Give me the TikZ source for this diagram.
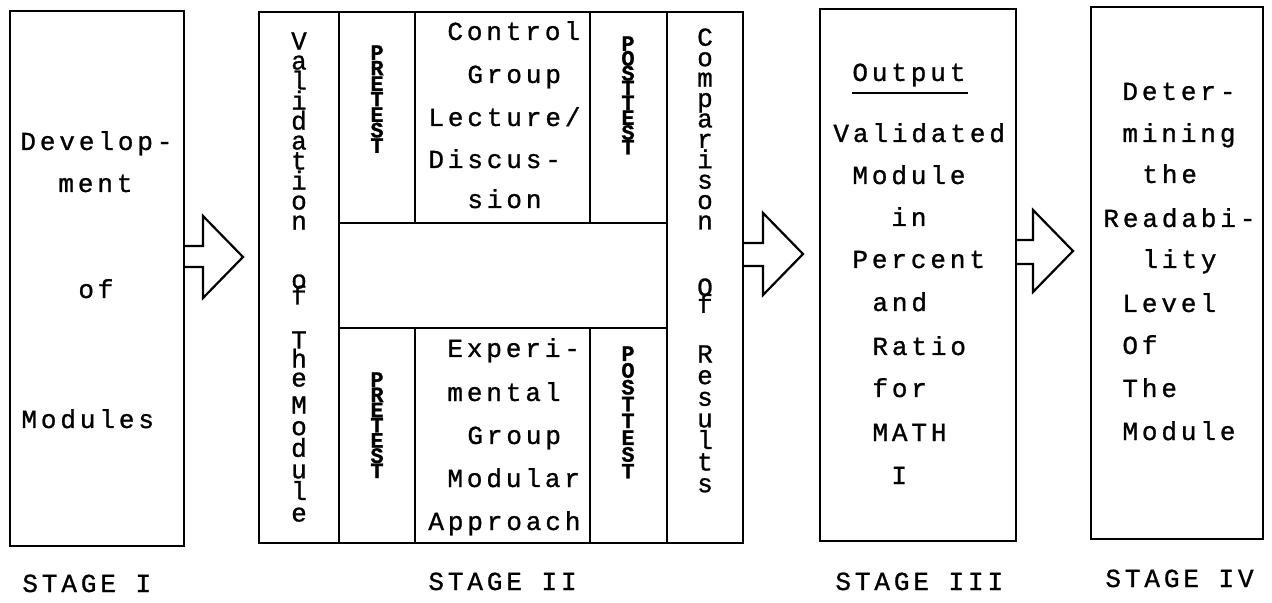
\documentclass[tikz,border=0pt]{standalone}
\usepackage{fontspec}
\newfontfamily\dmfam[LetterSpace=15,FakeBold=1]{Liberation Mono}
\newfontfamily\dmvfam[FakeBold=1]{Liberation Mono}
\newfontfamily\dmbfam[FakeBold=1]{Liberation Mono Bold}
\newcommand\dm{\dmfam\fontsize{13}{16}\selectfont}
\newcommand\stkfont[1]{\dmvfam\fontsize{13}{#1}\selectfont\lineskiplimit=-50pt\lineskip=0pt\relax}
\newcommand\bstkfont[1]{\dmbfam\fontsize{11}{#1}\selectfont\lineskiplimit=-50pt\lineskip=0pt\relax}
\begin{document}
\begin{tikzpicture}[x=0.5pt,y=-0.5pt,
  box/.style={draw, line width=1.3pt, rectangle, inner sep=0pt, outer sep=0pt, anchor=north west},
  cell/.style={draw, line width=1.1pt, rectangle, inner sep=0pt, outer sep=0pt, anchor=north west},
  ln/.style={font=\dm, anchor=base west, inner sep=0pt},
  stk/.style={font={\stkfont{#1}}, align=center, inner sep=0pt, anchor=north},
  bstk/.style={font={\bstkfont{#1}}, align=center, inner sep=0pt, anchor=north},
  blockarrow/.style={draw, line width=1.1pt, line join=miter}
]
\useasboundingbox[fill=white] (0,0) rectangle (1272,603);

% ---------- Stage I ----------
\node[box, minimum width=87pt, minimum height=267.5pt] (s1) at (10,11) {};
\node[ln] (s1a) at (20,150) {Develop-};
\node[ln] (s1b) at (58,192) {ment};
\node[ln] (s1c) at (78,298) {of};
\node[ln] (s1d) at (21,428) {Modules};

% ---------- Stage II ----------
\node[box, minimum width=242pt, minimum height=265.5pt] (s2) at (259,12) {};
\node[cell, minimum width=40pt, minimum height=265.5pt] (val) at (259,12) {};
\node[cell, minimum width=38pt, minimum height=105.5pt] (pre1) at (339,12) {};
\node[cell, minimum width=87.5pt, minimum height=105.5pt] (ctrl) at (415,12) {};
\node[cell, minimum width=38.5pt, minimum height=105.5pt] (post1) at (590,12) {};
\node[cell, minimum width=164pt, minimum height=52.5pt] (mid) at (339,223) {};
\node[cell, minimum width=38pt, minimum height=107.5pt] (pre2) at (339,328) {};
\node[cell, minimum width=87.5pt, minimum height=107.5pt] (expg) at (415,328) {};
\node[cell, minimum width=38.5pt, minimum height=107.5pt] (post2) at (590,328) {};
\node[cell, minimum width=38pt, minimum height=265.5pt] (comp) at (667,12) {};

% Validation of The Module
\node[stk=10] (v1) at (299,32) {V\\a\\l\\i\\d\\a\\t\\i\\o\\n};
\node[stk=8] (v2) at (299,274) {o\\f};
\node[stk=9.5] (v3) at (299,331) {T\\h\\e};
\node[stk=10.8] (v4) at (299,396) {M\\o\\d\\u\\l\\e};

% PRETEST
\node[bstk=7.75] (p1) at (377,45) {P\\R\\E\\T\\E\\S\\T};
\node[bstk=7.6] (p2) at (377,372) {P\\R\\E\\T\\E\\S\\T};
% POSTTEST
\node[bstk=7.4] (q1) at (628,36) {P\\O\\S\\T\\T\\E\\S\\T};
\node[bstk=8.4] (q2) at (628,346) {P\\O\\S\\T\\T\\E\\S\\T};

% Control group
\node[ln] (c1) at (447,40) {Control};
\node[ln] (c2) at (467,83) {Group};
\node[ln] (c3) at (428,126) {Lecture/};
\node[ln] (c4) at (428,168) {Discus-};
\node[ln] (c5) at (467,208) {sion};
% Experimental group
\node[ln] (e1) at (447,357) {Experi-};
\node[ln] (e2) at (447,401) {mental};
\node[ln] (e3) at (467,444) {Group};
\node[ln] (e4) at (447,487) {Modular};
\node[ln] (e5) at (428,530) {Approach};

% Comparison Of Results
\node[stk=10.2] (r1) at (705,28) {C\\o\\m\\p\\a\\r\\i\\s\\o\\n};
\node[stk=8.5] (r2) at (705,278) {O\\f};
\node[stk=10.8] (r3) at (705,345) {R\\e\\s\\u\\l\\t\\s};

% ---------- Stage III ----------
\node[box, minimum width=98pt, minimum height=266pt] (s3) at (820,9) {};
\node[ln] (o1) at (852,81) {Output};
\draw[line width=0.9pt] (o1.base west |- 0,93) -- (968,93);
\node[ln] (o2) at (833,142) {Validated};
\node[ln] (o3) at (852,184) {Module};
\node[ln] (o4) at (891,226) {in};
\node[ln] (o5) at (852,268) {Percent};
\node[ln] (o6) at (872,311) {and};
\node[ln] (o7) at (872,355) {Ratio};
\node[ln] (o8) at (872,397) {for};
\node[ln] (o9) at (872,441) {MATH};
\node[ln] (o10) at (891,484) {I};

% ---------- Stage IV ----------
\node[box, minimum width=86pt, minimum height=266pt] (s4) at (1091,7) {};
\node[ln] (d1) at (1122,100) {Deter-};
\node[ln] (d2) at (1122,142) {mining};
\node[ln] (d3) at (1142,183) {the};
\node[ln] (d4) at (1103,227) {Readabi-};
\node[ln] (d5) at (1142,268) {lity};
\node[ln] (d6) at (1122,312) {Level};
\node[ln] (d7) at (1122,354) {Of};
\node[ln] (d8) at (1122,397) {The};
\node[ln] (d9) at (1122,440) {Module};

% ---------- block arrows ----------
\draw[blockarrow] (s1.east |- 0,246) -- ++(19,0) -- ++(0,-30) -- ++(40,41) -- ++(-40,41) -- ++(0,-31) -- (s1.east |- 0,267);
\draw[blockarrow] (s2.east |- 0,243) -- ++(20,0) -- ++(0,-30) -- ++(40,41) -- ++(-40,41) -- ++(0,-29) -- (s2.east |- 0,266);
\draw[blockarrow] (s3.east |- 0,240) -- ++(17,0) -- ++(0,-30) -- ++(40,41) -- ++(-40,41) -- ++(0,-28) -- (s3.east |- 0,264);

% ---------- stage labels ----------
\node[ln] (L1) at (22,592) {STAGE I};
\node[ln] (L2) at (428,590) {STAGE II};
\node[ln] (L3) at (835,590) {STAGE III};
\node[ln] (L4) at (1105,587) {STAGE IV};
\end{tikzpicture}
\end{document}
